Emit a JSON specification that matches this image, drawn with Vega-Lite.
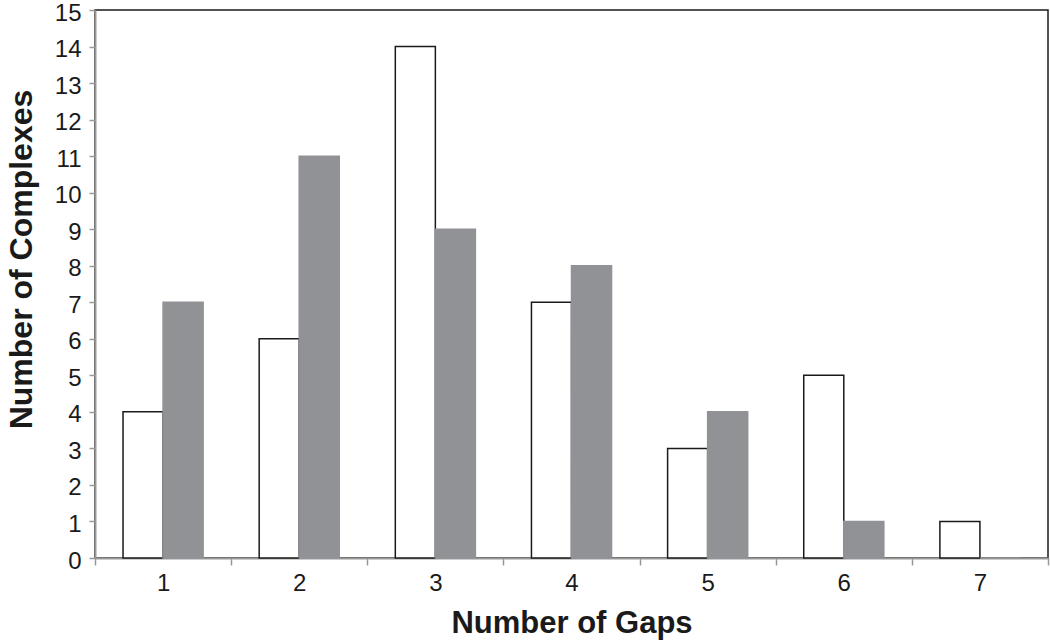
{
  "$schema": "https://vega.github.io/schema/vega-lite/v6.json",
  "width": 953,
  "height": 548,
  "autosize": "none",
  "padding": {"left": 95, "top": 10, "right": 2, "bottom": 82},
  "background": "white",
  "config": {
    "view": {"stroke": "#1a1a1a", "strokeWidth": 1.5},
    "font": "Liberation Sans"
  },
  "data": {
    "values": [
      {"gaps": "1", "series": "A", "count": 4},
      {"gaps": "1", "series": "B", "count": 7},
      {"gaps": "2", "series": "A", "count": 6},
      {"gaps": "2", "series": "B", "count": 11},
      {"gaps": "3", "series": "A", "count": 14},
      {"gaps": "3", "series": "B", "count": 9},
      {"gaps": "4", "series": "A", "count": 7},
      {"gaps": "4", "series": "B", "count": 8},
      {"gaps": "5", "series": "A", "count": 3},
      {"gaps": "5", "series": "B", "count": 4},
      {"gaps": "6", "series": "A", "count": 5},
      {"gaps": "6", "series": "B", "count": 1},
      {"gaps": "7", "series": "A", "count": 1},
      {"gaps": "7", "series": "B", "count": 0}
    ]
  },
  "mark": {"type": "bar", "strokeWidth": 1.5},
  "encoding": {
    "x": {
      "field": "gaps",
      "type": "nominal",
      "scale": {"paddingInner": 0, "paddingOuter": 0},
      "axis": {
        "title": "Number of Gaps",
        "titleFont": "Liberation Sans",
        "titleFontSize": 31,
        "titleFontWeight": "bold",
        "titleColor": "#1a1a1a",
        "titlePadding": 13,
        "labelAngle": 0,
        "labelFontSize": 24,
        "labelColor": "#1a1a1a",
        "labelPadding": 6,
        "tickBand": "extent",
        "tickSize": 7,
        "tickColor": "#999999",
        "tickWidth": 1.5,
        "domainColor": "#999999",
        "domainWidth": 2,
        "grid": false
      }
    },
    "xOffset": {"field": "series", "type": "nominal", "scale": {"paddingInner": 0, "paddingOuter": 0.7}},
    "y": {
      "field": "count",
      "type": "quantitative",
      "scale": {"domain": [0, 15], "nice": false},
      "axis": {
        "title": "Number of Complexes",
        "titleFont": "Liberation Sans",
        "titleFontSize": 32,
        "titleFontWeight": "bold",
        "titleColor": "#1a1a1a",
        "titleX": -57,
        "titleY": 249,
        "titleAngle": -90,
        "titleAlign": "center",
        "titleBaseline": "bottom",
        "values": [0,1,2,3,4,5,6,7,8,9,10,11,12,13,14,15],
        "labelFontSize": 24,
        "labelColor": "#1a1a1a",
        "labelPadding": 8,
        "labelOffset": 3,
        "tickSize": 6,
        "tickColor": "#999999",
        "tickWidth": 1.5,
        "domainColor": "#999999",
        "domainWidth": 2,
        "grid": false
      }
    },
    "fill": {
      "field": "series",
      "type": "nominal",
      "scale": {"domain": ["A", "B"], "range": ["#ffffff", "#919296"]},
      "legend": null
    },
    "stroke": {
      "field": "series",
      "type": "nominal",
      "scale": {"domain": ["A", "B"], "range": ["#1a1a1a", "#919296"]},
      "legend": null
    }
  }
}
